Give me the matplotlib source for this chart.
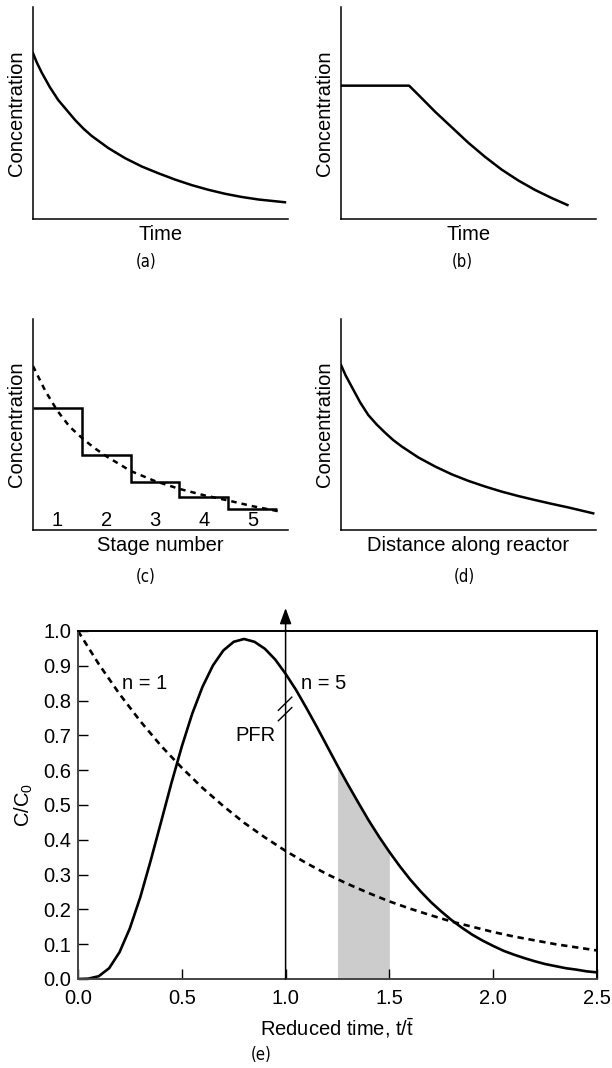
import matplotlib
matplotlib.use('Agg')
import matplotlib.pyplot as plt

plt.rcParams['font.family'] = ['Liberation Sans', 'DejaVu Sans']
plt.rcParams['mathtext.fontset'] = 'custom'
plt.rcParams['mathtext.rm'] = 'Liberation Sans'
plt.rcParams['mathtext.it'] = 'Liberation Sans:italic'

# (a) batch reactor: concentration vs time (axis fractions)
a_x = [0, 0.015, 0.034, 0.066, 0.099, 0.132, 0.165, 0.198, 0.230, 0.295, 0.361, 0.426, 0.491, 0.557,
       0.622, 0.687, 0.753, 0.818, 0.884, 0.988]
a_y = [0.782, 0.738, 0.691, 0.622, 0.561, 0.514, 0.467, 0.426, 0.392, 0.335, 0.287, 0.248, 0.216,
       0.186, 0.160, 0.138, 0.119, 0.104, 0.092, 0.079]

# (b) plug flow at fixed point: flat then decay
b_x = [0, 0.267, 0.304, 0.369, 0.434, 0.499, 0.565, 0.630, 0.695, 0.761, 0.826, 0.888]
b_y = [0.629, 0.629, 0.585, 0.506, 0.433, 0.360, 0.293, 0.233, 0.182, 0.137, 0.099, 0.066]

# (c) stages in series
stage_edges = [0.5, 1.5, 2.5, 3.5, 4.5, 5.5]
stage_levels = [0.58, 0.355, 0.227, 0.155, 0.101]
stage_labels = ['1', '2', '3', '4', '5']
c_x = [0.5, 0.75, 1.0, 1.25, 1.5, 1.75, 2.0, 2.5, 3.0, 3.5, 4.0, 4.5, 5.0, 5.62]
c_y = [0.777, 0.66, 0.565, 0.49, 0.437, 0.39, 0.35, 0.28, 0.232, 0.195, 0.165, 0.14, 0.113, 0.085]

# (d) concentration along PFR
d_x = [0, 0.018, 0.042, 0.075, 0.107, 0.140, 0.173, 0.205, 0.238, 0.303, 0.369, 0.434, 0.499, 0.565,
       0.630, 0.695, 0.761, 0.826, 0.891, 0.989]
d_y = [0.782, 0.733, 0.679, 0.605, 0.545, 0.500, 0.461, 0.426, 0.396, 0.344, 0.301, 0.264, 0.233,
       0.206, 0.182, 0.161, 0.142, 0.124, 0.107, 0.079]

# (e) residence time curves
t5 = [0.0, 0.05, 0.1, 0.15, 0.2, 0.25, 0.3, 0.35, 0.4, 0.45, 0.5, 0.55, 0.6, 0.65, 0.7, 0.75, 0.8,
      0.85, 0.9, 0.95, 1.0, 1.05, 1.1, 1.15, 1.2, 1.25, 1.3, 1.35, 1.4, 1.45, 1.5, 1.55, 1.6, 1.65,
      1.7, 1.75, 1.8, 1.85, 1.9, 1.95, 2.0, 2.05, 2.1, 2.15, 2.2, 2.25, 2.3, 2.35, 2.4, 2.45, 2.5]
n5 = [0.0, 0.001, 0.008, 0.031, 0.077, 0.146, 0.235, 0.340, 0.451, 0.563, 0.668, 0.762, 0.840, 0.901,
      0.944, 0.969, 0.977, 0.969, 0.949, 0.918, 0.877, 0.831, 0.779, 0.725, 0.669, 0.613, 0.559,
      0.507, 0.456, 0.409, 0.365, 0.324, 0.286, 0.252, 0.221, 0.194, 0.169, 0.147, 0.127, 0.110,
      0.095, 0.081, 0.070, 0.060, 0.051, 0.043, 0.037, 0.031, 0.027, 0.022, 0.019]
t1 = [0.0, 0.1, 0.2, 0.3, 0.4, 0.5, 0.6, 0.7, 0.8, 0.9, 1.0, 1.1, 1.2, 1.3, 1.4, 1.5, 1.6, 1.7, 1.8,
      1.9, 2.0, 2.1, 2.2, 2.3, 2.4, 2.5]
n1 = [1.0, 0.905, 0.819, 0.741, 0.670, 0.607, 0.549, 0.497, 0.449, 0.407, 0.368, 0.333, 0.301, 0.273,
      0.247, 0.223, 0.202, 0.183, 0.165, 0.150, 0.135, 0.122, 0.111, 0.100, 0.091, 0.082]
shade_from, shade_to = 1.25, 1.5
yticks_e = [0.0, 0.1, 0.2, 0.3, 0.4, 0.5, 0.6, 0.7, 0.8, 0.9, 1.0]
xticks_e = [0.0, 0.5, 1.0, 1.5, 2.0, 2.5]

W, H = 612, 1068
fig = plt.figure(figsize=(W / 100, H / 100), dpi=100)


def box(l, t, r, b):
    return [l / W, 1 - b / H, (r - l) / W, (b - t) / H]


def sketch_axes(rect, xlabel, xlim=(0, 1)):
    ax = fig.add_axes(rect)
    ax.set_xlim(*xlim)
    ax.set_ylim(0, 1)
    ax.spines['top'].set_visible(False)
    ax.spines['right'].set_visible(False)
    for s in ('left', 'bottom'):
        ax.spines[s].set_linewidth(1.1)
    ax.set_xticks([])
    ax.set_yticks([])
    ax.set_ylabel('Concentration', fontsize=14.5, labelpad=5)
    ax.set_xlabel(xlabel, fontsize=14.5, labelpad=4)
    return ax


lw = 1.8
ax_a = sketch_axes(box(33, 7, 288, 219), 'Time')
ax_a.plot(a_x, a_y, color='black', lw=lw, solid_joinstyle='round')

ax_b = sketch_axes(box(341, 7, 596, 219), 'Time')
ax_b.plot(b_x, b_y, color='black', lw=lw, solid_joinstyle='round')

ax_c = sketch_axes(box(33, 319, 288, 530), 'Stage number', xlim=(0.5, 5.73))
ax_c.stairs(stage_levels, stage_edges, baseline=None, color='black', lw=lw)
ax_c.plot(c_x, c_y, color='black', lw=lw, linestyle=(0, (2.2, 2.0)))
for i, lab in enumerate(stage_labels):
    ax_c.text(i + 1, 0.047, lab, ha='center', va='center', fontsize=14.5)

ax_d = sketch_axes(box(341, 319, 596, 530), 'Distance along reactor')
ax_d.plot(d_x, d_y, color='black', lw=lw, solid_joinstyle='round')

# panel letters
letter_font = dict(fontsize=12, family=['Liberation Sans Narrow', 'DejaVu Sans'],
                   ha='center', va='center', fontstretch='condensed')
for lab, x, y in [('(a)', 146, 262), ('(b)', 462, 262), ('(c)', 146, 577),
                  ('(d)', 464, 577), ('(e)', 261, 1055)]:
    fig.text(x / W, 1 - y / H, lab, **letter_font)

# (e)
ax = fig.add_axes(box(78, 631, 597, 979))
ax.set_xlim(0, 2.5)
ax.set_ylim(0, 1.0)
ax.fill_between([t for t in t5 if shade_from <= t <= shade_to],
                [v for t, v in zip(t5, n5) if shade_from <= t <= shade_to],
                0, color='#cccccc', lw=0)
ax.plot(t5, n5, color='black', lw=1.9, solid_joinstyle='round')
ax.plot(t1, n1, color='black', lw=1.9, linestyle=(0, (2.4, 1.8)))
ax.annotate('', xy=(1.0, 1.066), xytext=(1.0, 0.0), xycoords='data',
            arrowprops=dict(arrowstyle='-|>,head_length=0.6,head_width=0.22', color='black', lw=1.1,
                            mutation_scale=16, shrinkA=0, shrinkB=0),
            annotation_clip=False)
ax.plot([0.965, 1.03], [0.772, 0.81], color='black', lw=1.0)
ax.plot([0.965, 1.03], [0.742, 0.78], color='black', lw=1.0)
ax.text(0.21, 0.85, 'n = 1', fontsize=14.5, va='center', ha='left')
ax.text(1.076, 0.85, 'n = 5', fontsize=14.5, va='center', ha='left')
ax.text(0.95, 0.70, 'PFR', fontsize=14.5, va='center', ha='right')

ax.set_xticks(xticks_e)
ax.set_xticklabels(['%.1f' % v for v in xticks_e])
ax.set_yticks(yticks_e)
ax.set_yticklabels(['%.1f' % v for v in yticks_e])
ax.tick_params(direction='in', length=7, width=1.0, labelsize=14.5, pad=5)
ax.tick_params(axis='x', pad=7)
for s in ('left', 'bottom'):
    ax.spines[s].set_color('#444444')
    ax.spines[s].set_linewidth(1.4)
for s in ('top', 'right'):
    ax.spines[s].set_linewidth(1.4)
ax.set_ylabel('C/C$_0$', fontsize=14.5, labelpad=6)
ax.set_xlabel('Reduced time, t/$\\mathrm{\\bar{t}}$', fontsize=14.5, labelpad=6)

fig.savefig('out.png', dpi=100)
